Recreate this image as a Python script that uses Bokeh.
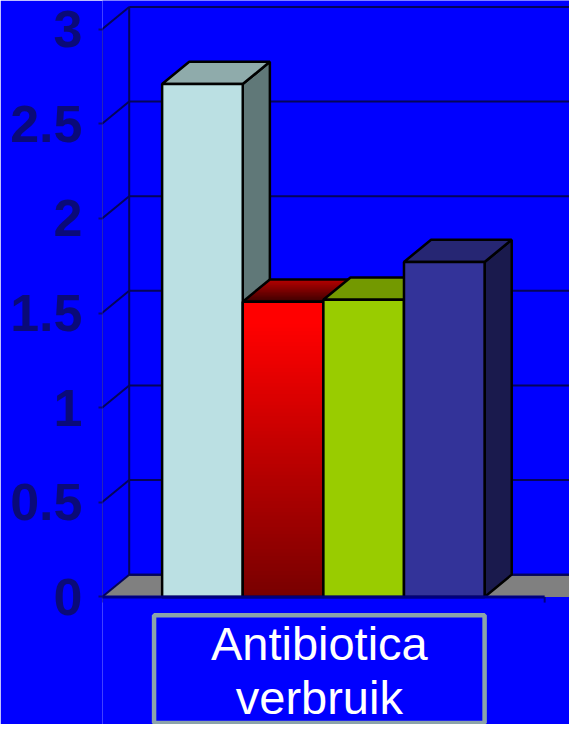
import numpy as np
from bokeh.plotting import figure
from bokeh.models import Range1d, FixedTicker
from bokeh.embed import file_html
from bokeh.resources import INLINE
from bokeh.core.properties import value

# ---------------- data ----------------
categories = ["Antibiotica", "verbruik"]          # category label (two lines)
series_values = [2.71, 1.56, 1.57, 1.77]           # four series, one category
tick_values = [0, 0.5, 1, 1.5, 2, 2.5, 3]
tick_labels = ["0", "0.5", "1", "1.5", "2", "2.5", "3"]

# ---------------- styles ----------------
BG = "#0000FF"
NAVY = "#0A0A78"
GRID = "#05055A"
front_colors = ["#BBE0E3", None, "#99CC00", "#333399"]
top_colors = ["#8FABAB", None, "#739900", "#262673"]
side_colors = ["#607878", "#800000", "#5C7A00", "#1A1A4D"]

W, H = 569, 724
SX, SY = W / 577.0, H / 732.0
LEFT = 102
PX_Y = 191.33 * SY        # px per y unit
PX_X = 81.75 * SX         # px per x unit (one bar width)
Y0_PX = 603 * SY          # canvas px of y=0
Y_TOP = Y0_PX / PX_Y
Y_BOT = -(H - Y0_PX) / PX_Y
X_END = (W - LEFT) / PX_X
X_OFF = (LEFT - 103 * SX) / PX_X

DX = 27.5 / 81.75    # depth offset (x)
DY = 22.5 / 191.33   # depth offset (y)
SLOT = 5.49          # category slot length on floor
BAR_W = 1.0

p = figure(width=W, height=H, output_backend="svg", toolbar_location=None,
           x_range=Range1d(X_OFF, X_END + X_OFF), y_range=Range1d(Y_BOT, Y_TOP),
           x_axis_type=None, min_border_left=LEFT, min_border_right=0,
           min_border_top=0, min_border_bottom=0)
p.background_fill_color = BG
p.border_fill_color = BG
p.outline_line_color = None
p.grid.grid_line_color = None

ax = p.yaxis[0]
ax.ticker = FixedTicker(ticks=tick_values)
ax.major_label_overrides = {t: l for t, l in zip(tick_values, tick_labels)}
ax.axis_line_color = None
ax.minor_tick_line_color = None
ax.major_tick_in = 0
ax.major_tick_out = 4
ax.major_tick_line_color = NAVY
ax.major_tick_line_width = 2
ax.major_label_standoff = 16
ax.major_label_text_font = "Liberation Sans"
ax.major_label_text_font_style = "bold"
ax.major_label_text_font_size = "52px"
ax.major_label_text_color = NAVY

ymax = max(tick_values)
XR = X_END + X_OFF + 1

# floor
p.patch([0, DX, SLOT + DX + 1, SLOT + 1], [0, DY, DY, 0], fill_color="#808080",
        line_color=None)
p.patch([0, DX, SLOT + DX, SLOT], [0, DY, DY, 0], fill_color="#808080",
        line_color=None)
p.segment(x0=[DX], y0=[DY], x1=[XR], y1=[DY], line_color=GRID, line_width=2)

# walls / gridlines
tv = np.array(tick_values, dtype=float)
p.segment(x0=[DX] * len(tv), y0=tv + DY, x1=[XR] * len(tv), y1=tv + DY,
          line_color=GRID, line_width=2)
p.segment(x0=[0] * len(tv), y0=tv, x1=[DX] * len(tv), y1=tv + DY,
          line_color=GRID, line_width=2)
p.segment(x0=[DX], y0=[DY], x1=[DX], y1=[ymax + DY], line_color=GRID, line_width=2)

# bars
n = len(series_values)
start = (SLOT - n * BAR_W) / 2


def lerp(c0, c1, f):
    a = [int(c0[i:i + 2], 16) for i in (1, 3, 5)]
    b = [int(c1[i:i + 2], 16) for i in (1, 3, 5)]
    return "#%02x%02x%02x" % tuple(int(round(a[k] + (b[k] - a[k]) * f)) for k in range(3))


for i, v in enumerate(series_values):
    x0 = start + i * BAR_W
    x1 = x0 + BAR_W
    side_x = [x1, x1, x1 + DX, x1 + DX]
    side_y = [0, v, v + DY, DY]
    top_x = [x0, x0 + DX, x1 + DX, x1]
    top_y = [v, v + DY, v + DY, v]
    # side
    p.patch(side_x, side_y, fill_color=side_colors[i], line_color="black",
            line_width=2.5)
    # top (gradient drawn as overlapping shapes, back to front)
    if top_colors[i] is None:
        N = 16
        for k in range(N - 1, -1, -1):
            t1 = (k + 1) / N
            c = lerp("#3C0000", "#B80000", (k + 0.5) / N)
            p.patch([x0, x1, x1 + t1 * DX, x0 + t1 * DX],
                    [v, v, v + t1 * DY, v + t1 * DY],
                    fill_color=c, line_color=None)
        p.patch(top_x, top_y, fill_color=None, line_color="black", line_width=2.5)
    else:
        p.patch(top_x, top_y, fill_color=top_colors[i], line_color="black",
                line_width=2.5)
    # front (gradient drawn as overlapping rectangles, tallest first)
    if front_colors[i] is None:
        N = 80
        ks = list(range(N - 1, -1, -1))
        tops = [v * (k + 1) / N for k in ks]
        cols = [lerp("#780000", "#FF0000", min(1.0, (k + 0.5) / N * 1.08)) for k in ks]
        p.quad(left=x0, right=x1, bottom=0, top=tops, fill_color=cols,
               line_color=None)
        p.quad(left=[x0], right=[x1], bottom=[0], top=[v], fill_color=None,
               line_color="black", line_width=2.5)
    else:
        p.quad(left=[x0], right=[x1], bottom=[0], top=[v],
               fill_color=front_colors[i], line_color="black", line_width=2.5)

# front axis line and floor front edge
p.segment(x0=[0], y0=[-0.03], x1=[0], y1=[ymax], line_color=NAVY, line_width=2)
p.segment(x0=[-0.07], y0=[0], x1=[SLOT], y1=[0], line_color="#000080", line_width=3)
p.segment(x0=[SLOT], y0=[0], x1=[SLOT], y1=[-0.03], line_color="#000080", line_width=2)

# category label box
cx = SLOT / 2 - 0.05
half = 2.05
box_top = -0.097
box_bot = -0.666
p.quad(left=[cx - half], right=[cx + half], top=[box_top], bottom=[box_bot],
       fill_color=None, line_color="#8CA3AA", line_width=4.5)
p.text(x=[cx] * len(categories), y=[-0.245, -0.53], text=categories,
       text_font=value("Liberation Sans"), text_font_size="47px",
       text_color="white", text_align="center", text_baseline="alphabetic")

open("out.html", "w").write(file_html(p, INLINE))
